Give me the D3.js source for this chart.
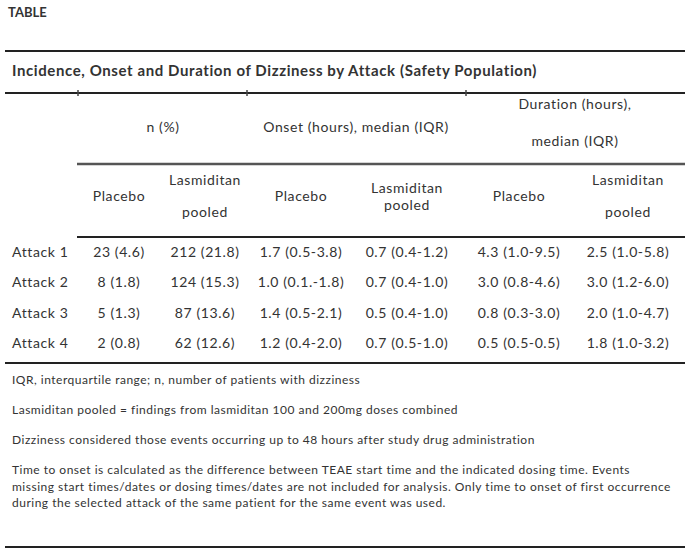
<!DOCTYPE html>
<html>
<head>
<meta charset="utf-8">
<script src="https://cdn.jsdelivr.net/npm/d3@7"></script>
<style>
  html, body { margin: 0; padding: 0; background: #fff; }
  svg { display: block; }
  text { font-family: Lato, "Open Sans", sans-serif; fill: #333; }
  .bold { font-weight: 700; }
  .cell { font-size: 14px; letter-spacing: 0.6px; }
  .rule { stroke: #222; stroke-width: 2; }
  .rule.soft { stroke: #555; stroke-width: 2.5; }
  .nick { stroke: #444; stroke-width: 1.5; }
</style>
</head>
<body>
<svg id="chart" width="685" height="551"></svg>
<script>
// table content
const attacks = ['Attack 1', 'Attack 2', 'Attack 3', 'Attack 4'];
const columns = ['nPlacebo', 'nLasm', 'onsetPlacebo', 'onsetLasm', 'durPlacebo', 'durLasm'];
const nPlacebo = ['23 (4.6)', '8 (1.8)', '5 (1.3)', '2 (0.8)'];
const nLasm = ['212 (21.8)', '124 (15.3)', '87 (13.6)', '62 (12.6)'];
const onsetPlacebo = ['1.7 (0.5-3.8)', '1.0 (0.1.-1.8)', '1.4 (0.5-2.1)', '1.2 (0.4-2.0)'];
const onsetLasm = ['0.7 (0.4-1.2)', '0.7 (0.4-1.0)', '0.5 (0.4-1.0)', '0.7 (0.5-1.0)'];
const durPlacebo = ['4.3 (1.0-9.5)', '3.0 (0.8-4.6)', '0.8 (0.3-3.0)', '0.5 (0.5-0.5)'];
const durLasm = ['2.5 (1.0-5.8)', '3.0 (1.2-6.0)', '2.0 (1.0-4.7)', '1.8 (1.0-3.2)'];
const groupHeaders = [['n (%)'], ['Onset (hours), median (IQR)'], ['Duration (hours),', 'median (IQR)']];
const subHeaders = [['Placebo'], ['Lasmiditan', 'pooled'], ['Placebo'], ['Lasmiditan', 'pooled'], ['Placebo'], ['Lasmiditan', 'pooled']];
const footnotes = [
  ['IQR, interquartile range; n, number of patients with dizziness'],
  ['Lasmiditan pooled = findings from lasmiditan 100 and 200mg doses combined'],
  ['Dizziness considered those events occurring up to 48 hours after study drug administration'],
  ['Time to onset is calculated as the difference between TEAE start time and the indicated dosing time. Events',
   'missing start times/dates or dosing times/dates are not included for analysis. Only time to onset of first occurrence',
   'during the selected attack of the same patient for the same event was used.']
];

const cells = { nPlacebo, nLasm, onsetPlacebo, onsetLasm, durPlacebo, durLasm };

const svg = d3.select('#chart');

// column centres and row positions
const x = d3.scaleOrdinal().domain(columns).range([119, 205, 301, 407, 519, 628]);
const groupX = d3.scaleOrdinal().domain([0, 1, 2]).range([163, 356, 575]);
const y = d3.scalePoint().domain(attacks).range([252, 343]);

svg.append('text')
  .attr('class', 'bold')
  .attr('x', 8).attr('y', 17)
  .attr('font-size', 13)
  .text('TABLE');

// horizontal rules
const rules = [
  { y: 51, x1: 5, x2: 685, cls: 'rule' },
  { y: 93, x1: 5, x2: 685, cls: 'rule' },
  { y: 164, x1: 77, x2: 685, cls: 'rule soft' },
  { y: 237, x1: 77, x2: 685, cls: 'rule' },
  { y: 363, x1: 5, x2: 685, cls: 'rule' },
  { y: 547, x1: 5, x2: 685, cls: 'rule' }
];
svg.selectAll('line.rule')
  .data(rules)
  .join('line')
  .attr('class', d => d.cls)
  .attr('x1', d => d.x1).attr('x2', d => d.x2)
  .attr('y1', d => d.y).attr('y2', d => d.y);

// small cell-border remnants sitting on the second rule
const nicks = [78, 247, 466];
svg.selectAll('line.nick')
  .data(nicks)
  .join('line')
  .attr('class', 'nick')
  .attr('x1', d => d).attr('x2', d => d)
  .attr('y1', 90).attr('y2', 96);

svg.append('text')
  .attr('class', 'bold')
  .attr('x', 12).attr('y', 76)
  .attr('font-size', 15)
  .attr('letter-spacing', 0.6)
  .text('Incidence, Onset and Duration of Dizziness by Attack (Safety Population)');

// group headers
const gh = svg.selectAll('text.group')
  .data(groupHeaders)
  .join('text')
  .attr('class', 'group cell')
  .attr('text-anchor', 'middle');
gh.selectAll('tspan')
  .data((d, i) => d.map((t, j) => ({ t, i, j, n: d.length })))
  .join('tspan')
  .attr('x', d => groupX(d.i))
  .attr('y', d => d.n === 1 ? 132 : 109 + d.j * 37)
  .text(d => d.t);

// sub headers
const sh = svg.selectAll('text.sub')
  .data(subHeaders)
  .join('text')
  .attr('class', 'sub cell')
  .attr('text-anchor', 'middle');
sh.selectAll('tspan')
  .data((d, i) => d.map((t, j) => ({ t, i, j, n: d.length })))
  .join('tspan')
  .attr('x', d => x(columns[d.i]))
  .attr('y', d => {
    if (d.n === 1) return 201;
    // the middle lasmiditan header sits tighter than the outer ones
    const gap = d.i === 3 ? 17 : 32;
    return 201 - gap / 2 + d.j * gap;
  })
  .text(d => d.t);

// row labels
svg.selectAll('text.rowlabel')
  .data(attacks)
  .join('text')
  .attr('class', 'rowlabel cell')
  .attr('x', 12)
  .attr('y', d => y(d) + 5)
  .text(d => d);

// body cells
const rows = svg.selectAll('g.row')
  .data(attacks)
  .join('g')
  .attr('class', 'row')
  .attr('transform', d => `translate(0,${y(d) + 5})`);
rows.selectAll('text')
  .data((d, i) => columns.map(c => ({ c, v: cells[c][i] })))
  .join('text')
  .attr('class', 'cell')
  .attr('text-anchor', 'middle')
  .attr('x', d => x(d.c))
  .text(d => d.v);

// footnotes
const fy = [384, 414, 444, 474];
const fn = svg.selectAll('text.foot')
  .data(footnotes)
  .join('text')
  .attr('class', 'foot')
  .attr('font-size', 12)
  .attr('letter-spacing', 0.5);
fn.selectAll('tspan')
  .data((d, i) => d.map((t, j) => ({ t, i, j })))
  .join('tspan')
  .attr('x', 12)
  .attr('y', d => fy[d.i] + d.j * 16.5)
  .text(d => d.t);
</script>
</body>
</html>
